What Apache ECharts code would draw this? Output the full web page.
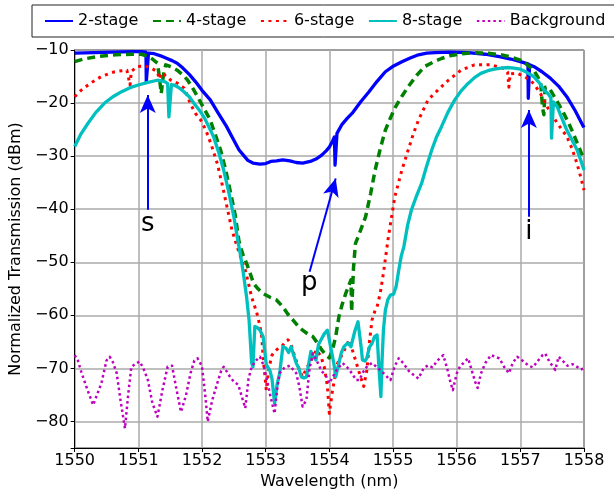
<!DOCTYPE html>
<html>
<head>
<meta charset="utf-8">
<script src="https://cdn.jsdelivr.net/npm/echarts@6/dist/echarts.min.js"></script>
<style>
html,body{margin:0;padding:0;background:#fff;}
#chart{width:614px;height:496px;}
</style>
</head>
<body>
<div id="chart"></div>
<script>
// ---- data (wavelength nm, transmission dBm) ----
var seriesNames = ['2-stage', '4-stage', '6-stage', '8-stage', 'Background'];
var xTicks = [1550, 1551, 1552, 1553, 1554, 1555, 1556, 1557, 1558];
var yTicks = [-80, -70, -60, -50, -40, -30, -20, -10];

var stage2 = [
 [1550.00,-10.6],[1550.30,-10.5],[1550.60,-10.4],[1550.90,-10.3],[1551.05,-10.3],[1551.12,-10.4],
 [1551.125,-16],[1551.155,-16],[1551.16,-10.6],[1551.25,-10.7],[1551.35,-11.1],[1551.45,-11.6],
 [1551.53,-12.0],[1551.61,-12.5],[1551.70,-13.4],[1551.80,-14.6],[1551.90,-16.0],[1552.00,-17.6],
 [1552.13,-19.4],[1552.25,-21.8],[1552.38,-24.3],[1552.50,-27.0],[1552.58,-28.8],[1552.65,-29.8],
 [1552.72,-30.8],[1552.80,-31.3],[1552.91,-31.5],[1553.00,-31.4],[1553.08,-31.0],[1553.17,-30.9],
 [1553.27,-30.7],[1553.38,-30.9],[1553.48,-31.2],[1553.58,-31.3],[1553.70,-31.0],[1553.80,-30.5],
 [1553.88,-29.8],[1553.95,-29.0],[1554.00,-28.3],[1554.05,-27.2],[1554.08,-26.4],[1554.09,-31.7],
 [1554.115,-31.7],[1554.12,-25.7],[1554.20,-24.0],[1554.28,-22.9],[1554.36,-21.9],[1554.49,-19.8],
 [1554.62,-17.9],[1554.75,-15.9],[1554.88,-14.1],[1555.01,-13.0],[1555.14,-12.2],[1555.27,-11.5],
 [1555.40,-10.9],[1555.53,-10.6],[1555.66,-10.5],[1555.90,-10.4],[1556.18,-10.5],[1556.45,-10.8],
 [1556.69,-11.3],[1556.85,-11.7],[1557.00,-12.2],[1557.12,-12.6],[1557.125,-19.1],[1557.14,-19.1],
 [1557.145,-12.8],[1557.21,-13.1],[1557.34,-14.1],[1557.47,-15.3],[1557.60,-16.8],[1557.73,-18.8],
 [1557.86,-21.4],[1557.99,-24.4],[1558.00,-24.6]
];

var stage4 = [
 [1550.00,-12.2],[1550.14,-11.7],[1550.37,-11.2],[1550.65,-10.9],[1550.90,-10.8],[1551.05,-10.8],
 [1551.15,-11.2],[1551.22,-11.7],[1551.30,-12.5],[1551.33,-15],[1551.36,-18.2],[1551.39,-15],
 [1551.43,-12.8],[1551.52,-13.2],[1551.61,-13.8],[1551.69,-14.6],[1551.77,-15.6],[1551.85,-17.1],
 [1551.93,-18.8],[1552.03,-21],[1552.13,-23.2],[1552.21,-26],[1552.29,-28.8],[1552.37,-32.5],
 [1552.44,-36.4],[1552.52,-41],[1552.58,-46],[1552.64,-48.5],[1552.70,-50.2],[1552.76,-52.2],
 [1552.81,-54.0],[1552.88,-55.0],[1552.96,-55.9],[1553.07,-56.6],[1553.17,-57.1],[1553.27,-58.4],
 [1553.35,-59.8],[1553.43,-60.9],[1553.50,-61.9],[1553.58,-62.8],[1553.66,-63.5],[1553.74,-64.0],
 [1553.80,-65],[1553.88,-66.5],[1553.95,-67.5],[1554.00,-68],[1554.05,-66.5],[1554.10,-64],
 [1554.15,-60.3],[1554.20,-58],[1554.26,-55.8],[1554.34,-53.3],[1554.35,-59.3],[1554.37,-59.3],
 [1554.38,-51],[1554.41,-46.5],[1554.49,-44],[1554.57,-41.4],[1554.65,-37],[1554.72,-32.6],
 [1554.80,-28.6],[1554.88,-25.1],[1554.96,-22.8],[1555.04,-20.7],[1555.14,-18.7],[1555.24,-16.9],
 [1555.37,-14.8],[1555.50,-13.1],[1555.63,-12.3],[1555.76,-11.6],[1555.89,-11.1],[1556.02,-10.8],
 [1556.28,-10.5],[1556.50,-10.6],[1556.69,-10.9],[1556.85,-11.3],[1557.00,-11.9],[1557.10,-12.7],
 [1557.21,-13.8],[1557.28,-15.2],[1557.32,-16.3],[1557.35,-21],[1557.37,-22.2],[1557.39,-17],
 [1557.47,-17.5],[1557.57,-19.5],[1557.68,-21.9],[1557.76,-23.8],[1557.83,-25.7],[1557.92,-28.3],
 [1558.00,-30.7]
];

var stage6 = [
 [1550.00,-18.8],[1550.10,-17.6],[1550.21,-16.6],[1550.32,-15.7],[1550.42,-15.0],[1550.53,-14.5],
 [1550.63,-14.1],[1550.74,-13.9],[1550.82,-13.8],[1550.85,-15.5],[1550.87,-16.6],[1550.89,-14.0],
 [1550.99,-13.1],[1551.10,-13.0],[1551.20,-13.4],[1551.30,-14.1],[1551.33,-15.5],[1551.36,-14.3],
 [1551.42,-14.8],[1551.51,-15.7],[1551.62,-16.3],[1551.72,-17.2],[1551.77,-18.6],[1551.82,-20.2],
 [1551.90,-22.0],[1551.98,-23.2],[1552.06,-25.1],[1552.15,-28],[1552.24,-31.4],[1552.32,-35.5],
 [1552.40,-40],[1552.47,-43.9],[1552.55,-47],[1552.62,-49.5],[1552.68,-51.5],[1552.73,-54],
 [1552.78,-56.6],[1552.86,-59.5],[1552.91,-62],[1552.94,-64.2],[1552.96,-68],[1552.99,-71.6],
 [1553.01,-74.1],[1553.05,-70],[1553.10,-67.5],[1553.14,-66.8],[1553.20,-66.2],[1553.25,-65.9],
 [1553.30,-65.2],[1553.35,-64.6],[1553.40,-65.5],[1553.45,-67.5],[1553.53,-70.3],[1553.58,-71.6],
 [1553.64,-70],[1553.69,-69],[1553.74,-67.8],[1553.80,-66.5],[1553.87,-67.8],[1553.92,-69.7],
 [1553.97,-73.4],[1554.00,-78.5],[1554.05,-74.1],[1554.10,-70.9],[1554.13,-69],[1554.21,-67.2],
 [1554.31,-64.6],[1554.36,-66.5],[1554.41,-68.4],[1554.49,-71.6],[1554.54,-73.4],[1554.59,-70.3],
 [1554.63,-65],[1554.67,-60.9],[1554.72,-59],[1554.75,-58.4],[1554.80,-55.8],[1554.85,-52],
 [1554.89,-48.5],[1554.93,-45],[1555.03,-37.6],[1555.14,-32.6],[1555.24,-28.8],[1555.32,-25.8],
 [1555.40,-23.2],[1555.55,-19.4],[1555.71,-17.5],[1555.87,-15.7],[1556.07,-13.8],[1556.28,-12.8],
 [1556.54,-12.8],[1556.75,-13.5],[1556.80,-14.2],[1556.82,-17],[1556.84,-14.5],[1556.95,-14.4],
 [1557.08,-15.1],[1557.21,-16.3],[1557.32,-18.3],[1557.42,-20.7],[1557.50,-22.2],[1557.58,-23.8],
 [1557.66,-25.1],[1557.73,-26.3],[1557.81,-28.5],[1557.89,-31.4],[1557.95,-34],[1558.00,-36.4]
];

var stage8 = [
 [1550.00,-28.2],[1550.10,-25.8],[1550.21,-23.8],[1550.33,-21.8],[1550.47,-20.0],[1550.60,-18.8],
 [1550.73,-17.9],[1550.87,-17.1],[1551.00,-16.6],[1551.15,-16.1],[1551.30,-15.7],[1551.40,-15.9],
 [1551.46,-16.3],[1551.48,-22.6],[1551.50,-22.6],[1551.52,-16.5],[1551.56,-16.6],[1551.64,-17.1],
 [1551.72,-17.9],[1551.80,-18.8],[1551.87,-20.0],[1551.95,-21.2],[1552.03,-22.6],[1552.10,-24.3],
 [1552.18,-26.3],[1552.26,-29.2],[1552.34,-32.6],[1552.42,-36.8],[1552.50,-41.4],[1552.57,-46.4],
 [1552.60,-48.3],[1552.65,-52.1],[1552.70,-56.5],[1552.74,-61],[1552.78,-69.0],[1552.80,-69.7],
 [1552.83,-62.1],[1552.87,-62.3],[1552.91,-62.8],[1552.96,-64.0],[1553.01,-69.3],[1553.07,-70.5],
 [1553.10,-72],[1553.14,-76.6],[1553.18,-73],[1553.22,-70.9],[1553.27,-65.9],[1553.32,-66.2],
 [1553.36,-67],[1553.40,-65.9],[1553.44,-67.5],[1553.48,-69],[1553.52,-70],[1553.56,-71.6],
 [1553.60,-71.8],[1553.64,-71.6],[1553.71,-66.8],[1553.75,-67.8],[1553.79,-68.4],[1553.83,-65.5],
 [1553.87,-64.6],[1553.92,-63.5],[1553.97,-62.8],[1554.02,-65.9],[1554.07,-69],[1554.10,-71.6],
 [1554.15,-69],[1554.19,-67],[1554.23,-65.9],[1554.29,-65.2],[1554.34,-65.9],[1554.40,-63],
 [1554.45,-61.2],[1554.47,-61.2],[1554.50,-66],[1554.52,-68.4],[1554.56,-68.6],[1554.59,-68],
 [1554.63,-66],[1554.67,-65.3],[1554.71,-64],[1554.75,-63.7],[1554.78,-70],[1554.81,-75.3],
 [1554.83,-68],[1554.85,-62.8],[1554.88,-59],[1554.92,-57],[1554.96,-56.2],[1555.01,-56],
 [1555.05,-54.5],[1555.09,-51.5],[1555.13,-48.8],[1555.17,-47.1],[1555.23,-43],[1555.29,-40.1],
 [1555.37,-37.5],[1555.45,-35.1],[1555.53,-31.8],[1555.61,-28.8],[1555.68,-26.5],[1555.76,-24.5],
 [1555.86,-21.8],[1555.97,-19.4],[1556.07,-17.7],[1556.18,-16.3],[1556.28,-15.2],[1556.38,-14.4],
 [1556.49,-13.9],[1556.59,-13.6],[1556.70,-13.4],[1556.80,-13.3],[1556.90,-13.4],[1557.00,-13.6],
 [1557.10,-14.2],[1557.21,-15.0],[1557.30,-16.2],[1557.37,-17.5],[1557.44,-18.3],[1557.48,-19],
 [1557.49,-26.6],[1557.51,-26.6],[1557.52,-19.8],[1557.58,-20.7],[1557.65,-22.8],[1557.73,-25.1],
 [1557.81,-26.9],[1557.89,-28.8],[1557.95,-30.8],[1558.00,-32.6]
];

var background = [
 [1550.00,-67.5],[1550.05,-68.5],[1550.11,-70.9],[1550.20,-74],[1550.29,-76.9],[1550.35,-75],
 [1550.42,-72.8],[1550.50,-68.5],[1550.55,-67.8],[1550.60,-68.8],[1550.66,-70.9],[1550.72,-76],
 [1550.79,-81.3],[1550.84,-75],[1550.89,-69.7],[1550.95,-69.2],[1551.02,-68.7],[1551.08,-70],
 [1551.15,-72.2],[1551.22,-76.5],[1551.30,-79.1],[1551.38,-74],[1551.46,-69.7],[1551.53,-69.5],
 [1551.60,-74],[1551.67,-78.2],[1551.75,-75],[1551.82,-70.9],[1551.88,-68.5],[1551.93,-68.1],
 [1552.00,-69.6],[1552.05,-75],[1552.09,-80.0],[1552.16,-76],[1552.24,-72.8],[1552.30,-70.5],
 [1552.34,-69.7],[1552.40,-70.8],[1552.44,-71.6],[1552.50,-72.5],[1552.57,-73.1],[1552.63,-75.5],
 [1552.68,-77.5],[1552.73,-72],[1552.78,-69.7],[1552.85,-68.5],[1552.91,-67.8],[1552.97,-69.5],
 [1553.02,-72.2],[1553.08,-75.5],[1553.14,-78.5],[1553.18,-74],[1553.22,-70.9],[1553.30,-69.8],
 [1553.38,-69.5],[1553.48,-70.9],[1553.53,-73.5],[1553.58,-77.2],[1553.64,-75.9],[1553.69,-70],
 [1553.74,-67.2],[1553.80,-68.5],[1553.88,-70.5],[1553.95,-71.5],[1554.00,-72.8],[1554.06,-71.5],
 [1554.12,-70.2],[1554.21,-69.0],[1554.28,-69.8],[1554.36,-71],[1554.42,-72.2],[1554.47,-72.2],
 [1554.54,-70.5],[1554.60,-69.5],[1554.67,-69.0],[1554.75,-69.8],[1554.82,-70.5],[1554.90,-71.5],
 [1554.96,-72.2],[1555.03,-69.5],[1555.09,-68.1],[1555.16,-69],[1555.25,-70.5],[1555.32,-71.2],
 [1555.40,-71.9],[1555.48,-70],[1555.55,-69.4],[1555.62,-69.8],[1555.70,-68.5],[1555.79,-67.5],
 [1555.85,-70],[1555.90,-72.5],[1555.94,-74.1],[1556.00,-71],[1556.05,-69.7],[1556.12,-68.8],
 [1556.18,-68.1],[1556.24,-70.5],[1556.29,-72.5],[1556.33,-73.7],[1556.38,-71],[1556.45,-69],
 [1556.54,-67.5],[1556.60,-67.8],[1556.67,-68.1],[1556.75,-69.8],[1556.82,-70.9],[1556.88,-69],
 [1556.95,-67.8],[1557.03,-68.5],[1557.13,-69.5],[1557.20,-69.8],[1557.28,-68.5],[1557.35,-67.5],
 [1557.39,-67.2],[1557.46,-68.8],[1557.55,-70.3],[1557.60,-67.8],[1557.66,-68.5],[1557.74,-69.5],
 [1557.82,-69.2],[1557.89,-69.7],[1557.95,-70.2],[1558.00,-70]
];

// annotation arrows: [label, tailX, tailY, tipX, tipY, labelX, labelY]
var arrows = [
 ['s', 1551.148, -40.1, 1551.148, -18.5, 1551.148, -42.8],
 ['p', 1553.69, -51.8, 1554.10, -34.2, 1553.685, -53.9],
 ['i', 1557.134, -41.4, 1557.134, -21.3, 1557.134, -44.3]
];

var FONT = 'DejaVu Sans';
var chart = echarts.init(document.getElementById('chart'), null, {renderer: 'canvas'});

function lineSeries(name, data, color, width, type) {
  return {
    name: name, type: 'line', data: data, symbol: 'none', showSymbol: false,
    smooth: false, animation: false, silent: true,
    lineStyle: {color: color, width: width, type: type, cap: 'butt', join: 'round'},
    itemStyle: {color: color}
  };
}

var option = {
  animation: false,
  backgroundColor: '#fff',
  textStyle: {fontFamily: FONT},
  grid: {left: 69, right: 30, top: 50, bottom: 48, show: true, borderColor: '#000', borderWidth: 1, backgroundColor: 'transparent'},
  legend: {
    data: seriesNames,
    left: 32, top: 5, width: 620,
    padding: [8, 10, 8, 12],
    itemWidth: 28, itemHeight: 14, itemGap: 13.6,
    borderColor: '#222', borderWidth: 1, borderRadius: 0,
    backgroundColor: '#fff',
    itemStyle: {color: 'transparent', borderColor: 'transparent', borderWidth: 0},
    textStyle: {fontSize: 16, fontFamily: FONT, color: '#000'}
  },
  xAxis: {
    type: 'value', min: 1550, max: 1558, interval: 1,
    name: 'Wavelength (nm)', nameLocation: 'middle', nameGap: 25,
    nameTextStyle: {fontSize: 16, fontFamily: FONT, color: '#000'},
    axisLine: {show: true, lineStyle: {color: '#000', width: 1}},
    axisTick: {show: true, length: 4, lineStyle: {color: '#000', width: 1}},
    axisLabel: {fontSize: 16, fontFamily: FONT, color: '#000', margin: 5,
      formatter: function (v) { return xTicks.indexOf(v) >= 0 ? String(v) : ''; }},
    splitLine: {show: true, lineStyle: {color: '#aaaaaa', width: 1.5}}
  },
  yAxis: {
    type: 'value', min: -85, max: -10, splitNumber: 7,
    name: 'Normalized Transmission (dBm)', nameLocation: 'middle', nameGap: 47,
    nameTextStyle: {fontSize: 16, fontFamily: FONT, color: '#000'},
    axisLine: {show: true, lineStyle: {color: '#000', width: 1}},
    axisTick: {show: true, length: 4, lineStyle: {color: '#000', width: 1}},
    axisLabel: {fontSize: 16, fontFamily: FONT, color: '#000', margin: 6,
      formatter: function (v) { return yTicks.indexOf(v) >= 0 ? String(v).replace('-', '\u2212') : ''; }},
    splitLine: {show: true, lineStyle: {color: '#aaaaaa', width: 1.5}}
  },
  series: [
    lineSeries('2-stage', stage2, '#0000ff', 3.3, 'solid'),
    lineSeries('4-stage', stage4, '#008000', 3.5, [8, 5]),
    lineSeries('6-stage', stage6, '#ff0000', 3, [3, 4.5]),
    lineSeries('8-stage', stage8, '#00bfbf', 3.3, 'solid'),
    lineSeries('Background', background, '#bf00bf', 2.5, [2.5, 3]),
    {
      name: 'annotations', type: 'line', data: [], symbol: 'none', silent: true,
      markLine: {
        silent: true, animation: false,
        symbol: ['none', 'arrow'],
        lineStyle: {color: '#0000ff', width: 2, type: 'solid'},
        label: {show: false},
        emphasis: {disabled: true},
        data: arrows.map(function (a) {
          return [{coord: [a[1], a[2]], symbol: 'none'}, {coord: [a[3], a[4]], symbol: 'arrow', symbolSize: [12, 18]}];
        })
      },
      markPoint: {
        silent: true, animation: false,
        symbol: 'circle', symbolSize: 1,
        itemStyle: {color: 'transparent'},
        label: {show: true, position: 'inside', formatter: '{b}', fontSize: 26, fontFamily: FONT, color: '#000'},
        data: arrows.map(function (a) { return {name: a[0], coord: [a[5], a[6]]}; })
      }
    }
  ]
};
chart.setOption(option);
</script>
</body>
</html>
